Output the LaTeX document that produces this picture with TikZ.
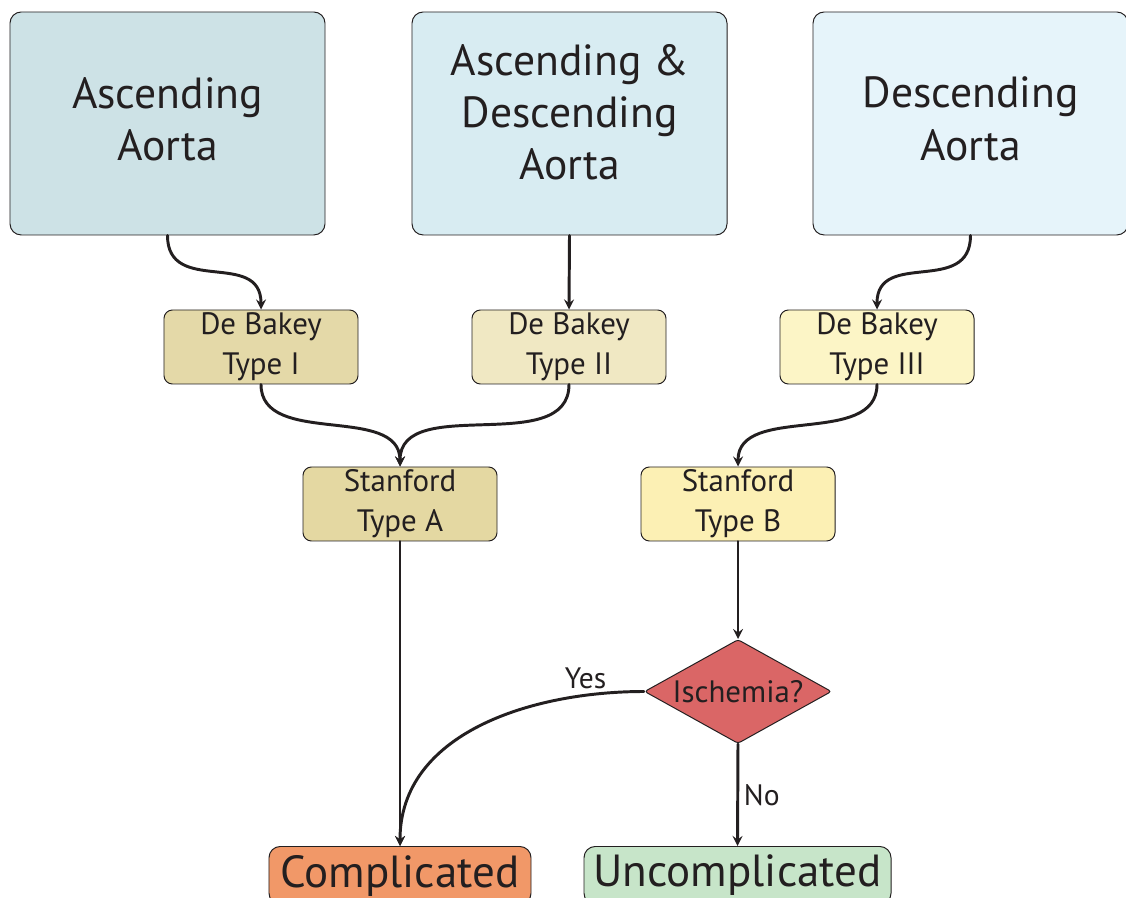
\documentclass[tikz,border=0pt]{standalone}
\usepackage{fontspec}
\setmainfont{PT Sans}
\usetikzlibrary{shapes.geometric}

\definecolor{lineclr}{HTML}{231F20}
\definecolor{ascclr}{HTML}{CDE2E6}
\definecolor{bothclr}{HTML}{D8ECF2}
\definecolor{descclr}{HTML}{E6F4FA}
\definecolor{bakeyone}{HTML}{E4D9A8}
\definecolor{bakeytwo}{HTML}{F0E8C3}
\definecolor{bakeythree}{HTML}{FCF5C6}
\definecolor{stanaclr}{HTML}{E4D8A2}
\definecolor{stanbclr}{HTML}{FCF0B4}
\definecolor{ischclr}{HTML}{DA6666}
\definecolor{compclr}{HTML}{F19868}
\definecolor{uncompclr}{HTML}{C7E5C9}

\begin{document}
\begin{tikzpicture}[line join=round, line cap=round, >=stealth, x=0.25mm, y=-0.25mm,
		box/.style={draw=lineclr, line width=0.7pt, rounded corners=8pt, align=center, inner sep=0pt, text=lineclr},
		aortabox/.style={box, minimum width=78.75mm, minimum height=55.75mm, font=\fontsize{31}{37}\selectfont},
		typebox/.style={box, rounded corners=6pt, minimum width=48.5mm, minimum height=18.5mm, font=\fontsize{22}{28.5}\selectfont},
		endbox/.style={box, anchor=north, minimum height=14.5mm, font=\fontsize{32}{37}\selectfont},
		decision/.style={diamond, draw=lineclr, line width=0.7pt, rounded corners=2pt, fill=ischclr, inner sep=0pt, minimum width=46.75mm, minimum height=26mm},
		link/.style={->, line width=2.1pt, draw=lineclr},
		lbl/.style={font=\fontsize{21}{25}\selectfont, text=lineclr}]
			\useasboundingbox (0,0) rectangle (1126,898);
			
			% 1. Vị trí bóc tách
			\node[aortabox, fill=ascclr, text depth=7pt] (asc) at (167.5,123.5) {Ascending\\Aorta};
			\node[aortabox, fill=bothclr, text depth=16pt] (both) at (569.5,123.5) {Ascending \&\\Descending\\Aorta};
			\node[aortabox, fill=descclr, text depth=7pt] (desc) at (970.5,123.5) {Descending\\Aorta};
			
			% 2. Phân loại De Bakey
			\node[typebox, fill=bakeyone] (dbI) at (261,347) {De Bakey\\Type I};
			\node[typebox, fill=bakeytwo] (dbII) at (569,347) {De Bakey\\Type II};
			\node[typebox, fill=bakeythree] (dbIII) at (877,347) {De Bakey\\Type III};
			
			% 3. Phân loại Stanford
			\node[typebox, fill=stanaclr] (stA) at (400,504) {Stanford\\Type A};
			\node[typebox, fill=stanbclr] (stB) at (738,504) {Stanford\\Type B};
			
			% 4. Thiếu máu?
			\node[decision, label={[lbl, font=\fontsize{22}{26}\selectfont]center:Ischemia?}] (isch) at (738,691.5) {};
			
			% 5. Kết cục
			\node[endbox, fill=compclr, minimum width=65.5mm] (comp) at (400,846) {Complicated};
			\node[endbox, fill=uncompclr, minimum width=76.75mm] (uncomp) at (737.5,846) {Uncomplicated};
			
			% 6. Mũi tên
			\draw[link] (asc.south) to[out=-90, in=90, looseness=1.3] (dbI.north);
			\draw[link] (both.south) -- (dbII.north);
			\draw[link] (desc.south) to[out=-90, in=90, looseness=1.3] (dbIII.north);
			\draw[link] (dbI.south) to[out=-90, in=90] (stA.north);
			\draw[link] (dbII.south) to[out=-90, in=90] (stA.north);
			\draw[link] (dbIII.south) to[out=-90, in=90] (stB.north);
			\draw[link] (stA.south) -- (comp.north);
			\draw[link] (stB.south) -- (isch.north);
			\draw[link] (isch.west) to[out=180, in=90] node[lbl, pos=0.17, above] {Yes} (comp.north);
			\draw[link] (isch.south) -- node[lbl, right] {No} (uncomp.north);
		\end{tikzpicture}
\end{document}
